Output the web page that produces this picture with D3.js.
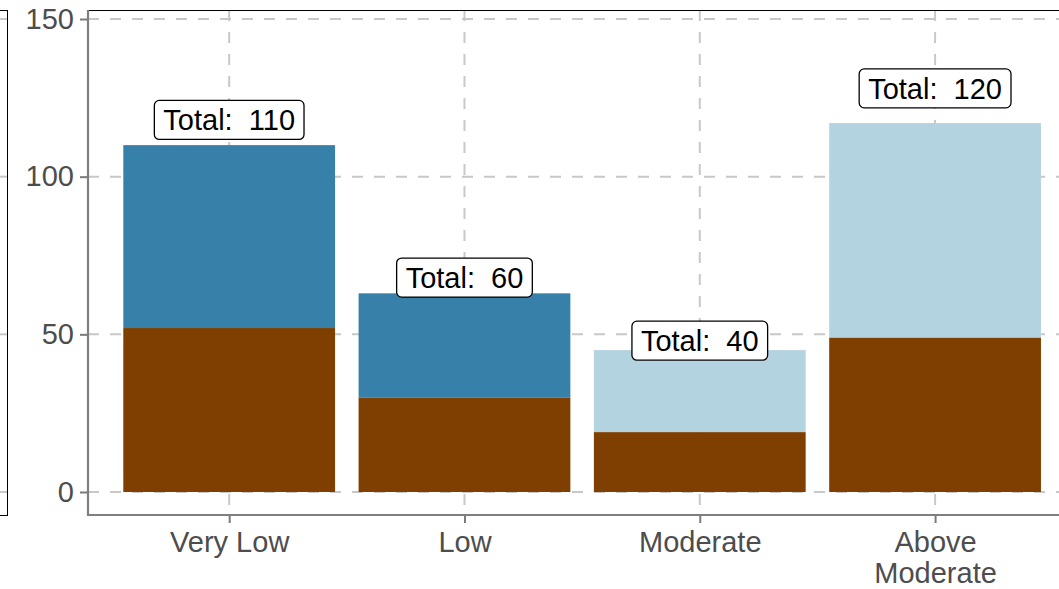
<!DOCTYPE html>
<html>
<head>
<meta charset="utf-8">
<script src="https://cdn.jsdelivr.net/npm/d3@7"></script>
<style>
  body { margin: 0; background: #fff; }
  svg { display: block; font-family: "Liberation Sans", Arial, sans-serif; }
</style>
</head>
<body>
<svg id="chart"></svg>
<script>
var categories = ["Very Low", "Low", "Moderate", "Above Moderate"];
var lowerValues = [52, 30, 19, 49];
var upperValues = [58, 33, 26, 68];
var upperGroup = ["dark", "dark", "light", "light"];
var totalLabels = [110, 60, 40, 120];
var yTicks = [0, 50, 100, 150];

var W = 1059, H = 589;
var panelLeft = 88, panelTop = 10, panelBottom = 515;
var step = 235.3;
var fs = 29;

var colors = { lower: "#7f3f00", dark: "#3680aa", light: "#b4d3e0" };

var svg = d3.select("#chart").attr("width", W).attr("height", H);

var x = d3.scalePoint()
    .domain(categories)
    .range([panelLeft + 0.6 * step, panelLeft + 3.6 * step]);
var y = d3.scaleLinear().domain([0, 150]).range([492, 19]);
var barW = step * 0.9;

// left neighbour panel (cut off)
svg.append("g").selectAll("line")
    .data(yTicks)
    .enter().append("line")
    .attr("x1", 0).attr("x2", 7)
    .attr("y1", d => y(d)).attr("y2", d => y(d))
    .attr("stroke", "#c8c8c8").attr("stroke-width", 2);
svg.append("rect")
    .attr("x", -10).attr("y", panelTop + 0.5)
    .attr("width", 17.5).attr("height", panelBottom - panelTop)
    .attr("fill", "none").attr("stroke", "#000").attr("stroke-width", 1.3)
    .attr("shape-rendering", "crispEdges");

// grid
var grid = svg.append("g");
grid.selectAll(".gy")
    .data(yTicks)
    .enter().append("line")
    .attr("x1", panelLeft).attr("x2", W)
    .attr("y1", d => y(d)).attr("y2", d => y(d))
    .attr("stroke", "#c8c8c8").attr("stroke-width", 2)
    .attr("stroke-dasharray", "11,11");
grid.selectAll(".gx")
    .data(categories)
    .enter().append("line")
    .attr("x1", d => x(d)).attr("x2", d => x(d))
    .attr("y1", panelTop).attr("y2", panelBottom)
    .attr("stroke", "#c8c8c8").attr("stroke-width", 2)
    .attr("stroke-dasharray", "11,11");

// panel border top
svg.append("line")
    .attr("x1", panelLeft).attr("x2", W)
    .attr("y1", panelTop + 0.5).attr("y2", panelTop + 0.5)
    .attr("stroke", "#000").attr("stroke-width", 1.3)
    .attr("shape-rendering", "crispEdges");

// bars
var bars = svg.append("g");
bars.selectAll(".lower")
    .data(categories)
    .enter().append("rect")
    .attr("x", d => x(d) - barW / 2)
    .attr("width", barW)
    .attr("y", (d, i) => y(lowerValues[i]))
    .attr("height", (d, i) => y(0) - y(lowerValues[i]))
    .attr("fill", colors.lower);
bars.selectAll(".upper")
    .data(categories)
    .enter().append("rect")
    .attr("x", d => x(d) - barW / 2)
    .attr("width", barW)
    .attr("y", (d, i) => y(lowerValues[i] + upperValues[i]))
    .attr("height", (d, i) => y(lowerValues[i]) - y(lowerValues[i] + upperValues[i]))
    .attr("fill", (d, i) => colors[upperGroup[i]]);

// total labels
var labels = svg.append("g").selectAll("g")
    .data(categories)
    .enter().append("g")
    .attr("transform", (d, i) => "translate(" + x(d) + "," + y(totalLabels[i] + 8) + ")");
labels.append("rect").attr("class", "box");
labels.append("text")
    .attr("text-anchor", "middle")
    .attr("dy", "0.36em")
    .attr("font-size", fs)
    .attr("fill", "#000")
    .style("white-space", "pre")
    .text((d, i) => "Total:  " + totalLabels[i]);
labels.each(function() {
    var g = d3.select(this);
    var b = g.select("text").node().getBBox();
    g.select("rect")
        .attr("x", b.x - 9).attr("y", -19.5)
        .attr("width", b.width + 18).attr("height", 39)
        .attr("rx", 5).attr("ry", 5)
        .attr("fill", "#fff").attr("stroke", "#000").attr("stroke-width", 1.3);
});

// y axis
var yAxis = svg.append("g")
    .attr("transform", "translate(" + panelLeft + ",0)")
    .call(d3.axisLeft(y).tickValues(yTicks).tickSize(8).tickPadding(6));
yAxis.select(".domain").remove();
yAxis.selectAll(".tick line").attr("stroke", "#7a7a7a").attr("stroke-width", 2);
yAxis.selectAll(".tick text").attr("font-size", fs).attr("fill", "#4d4d4d")
    .attr("font-family", "Liberation Sans, Arial, sans-serif");

// x axis
var xAxis = svg.append("g")
    .attr("transform", "translate(0," + panelBottom + ")")
    .call(d3.axisBottom(x).tickSize(8).tickPadding(6));
xAxis.select(".domain").remove();
xAxis.selectAll(".tick line").attr("stroke", "#7a7a7a").attr("stroke-width", 2);
xAxis.selectAll(".tick text").remove();
xAxis.selectAll(".tick").each(function(d) {
    var words = d === "Above Moderate" ? ["Above", "Moderate"] : [d];
    var t = d3.select(this).append("text")
        .attr("text-anchor", "middle")
        .attr("font-size", fs)
        .attr("fill", "#4d4d4d")
        .attr("font-family", "Liberation Sans, Arial, sans-serif");
    words.forEach(function(w, k) {
        t.append("tspan").attr("x", 0).attr("y", 37 + k * 31).text(w);
    });
});

// axis lines
svg.append("line")
    .attr("x1", panelLeft).attr("x2", panelLeft)
    .attr("y1", panelTop).attr("y2", panelBottom + 1)
    .attr("stroke", "#7f7f7f").attr("stroke-width", 2.2);
svg.append("line")
    .attr("x1", panelLeft - 1).attr("x2", W)
    .attr("y1", panelBottom).attr("y2", panelBottom)
    .attr("stroke", "#7f7f7f").attr("stroke-width", 2.2);
</script>
</body>
</html>
